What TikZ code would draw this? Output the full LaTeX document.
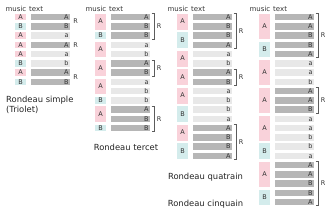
\documentclass[tikz,border=0pt]{standalone}
\usepackage{fontspec}
\setmainfont{DejaVu Sans}
\usetikzlibrary{calc}
\definecolor{musA}{RGB}{249,210,218}
\definecolor{musB}{RGB}{212,236,236}
\definecolor{barRef}{RGB}{182,182,182}
\definecolor{barVer}{RGB}{232,232,232}
\definecolor{inkGrey}{RGB}{51,51,51}
\tikzset{
  rd/hdr/.style={inner sep=0pt, font=\fontsize{7}{8}\selectfont, text=inkGrey},
  rd/bar/.style={rectangle, inner sep=0pt, inner xsep=1.5pt,
    minimum height=6.5pt, text width=36pt, align=right,
    text height=4.7pt, text depth=0pt,
    font=\fontsize{6.5}{7}\selectfont, text=inkGrey},
  rd/mus/.style={rectangle, inner sep=0pt, minimum width=11pt,
    text height=4.7pt, text depth=0pt,
    font=\fontsize{6.5}{7}\selectfont, text=inkGrey},
  rd/brk/.style={draw=inkGrey!80, line width=0.5pt},
  rd/rlab/.style={inner sep=0pt, anchor=west,
    font=\fontsize{6.5}{7}\selectfont, text=inkGrey},
  rd/title/.style={inner sep=0pt, font=\fontsize{8.4}{10}\selectfont,
    text=inkGrey!70!black}
}
\begin{document}
\begin{tikzpicture}[x=1pt, y=-1pt]
  \useasboundingbox (0,0) rectangle (330,218);

  % Rondeau simple (triolet)
  \node[rd/hdr, anchor=east] (tri-hm) at (26.5,9) {music};
  \node[rd/hdr, anchor=west] (tri-ht) at (29,9) {text};
  \foreach \t/\c [count=\i] in {A/barRef,B/barRef,a/barVer,A/barRef,
      a/barVer,b/barVer,A/barRef,B/barRef}
    \node[rd/bar, fill=\c] (tri-bar\i) at (50.5,{17+(\i-1)*9.25}) {\t};
  \foreach \m/\a/\b [count=\k] in {A/1/1,B/2/2,A/3/3,A/4/4,A/5/5,B/6/6,
      A/7/7,B/8/8}
    \node[rd/mus, fill=mus\m, minimum height={(\b-\a)*9.25+6.5}]
      (tri-mus\k) at (20.5,{17+((\a+\b)/2-1)*9.25}) {\m};
  \node[rd/rlab] (tri-r1) at ($(tri-bar1.east)!.5!(tri-bar2.east)+(3pt,0)$) {R};
  \node[rd/rlab] (tri-r2) at ($(tri-bar4.east)+(3pt,0)$) {R};
  \node[rd/rlab] (tri-r3) at ($(tri-bar7.east)!.5!(tri-bar8.east)+(3pt,0)$) {R};
  \node[rd/title, align=left, anchor=west] (tri-title) at (6,105)
    {Rondeau simple\\(Triolet)};

  % Rondeau tercet
  \node[rd/hdr, anchor=east] (ter-hm) at (106.5,9) {music};
  \node[rd/hdr, anchor=west] (ter-ht) at (109,9) {text};
  \foreach \t/\c [count=\i] in {A/barRef,B/barRef,B/barRef,a/barVer,
      b/barVer,A/barRef,B/barRef,a/barVer,b/barVer,b/barVer,A/barRef,
      B/barRef,B/barRef}
    \node[rd/bar, fill=\c] (ter-bar\i) at (130.5,{17+(\i-1)*9.25}) {\t};
  \foreach \m/\a/\b [count=\k] in {A/1/2,B/3/3,A/4/5,A/6/7,A/8/9,B/10/10,
      A/11/12,B/13/13}
    \node[rd/mus, fill=mus\m, minimum height={(\b-\a)*9.25+6.5}]
      (ter-mus\k) at (100.5,{17+((\a+\b)/2-1)*9.25}) {\m};
  \foreach \a/\b [count=\k] in {1/3,6/7,11/13}
    \draw[rd/brk] ([xshift=1.5pt]ter-bar\a.north east) -- ++(3pt,0)
      |- node[rd/rlab, pos=.25, xshift=2pt] (ter-r\k) {R}
      ([xshift=1.5pt]ter-bar\b.south east);
  \node[rd/title] (ter-title) at (126,147) {Rondeau tercet};

  % Rondeau quatrain
  \node[rd/hdr, anchor=east] (qua-hm) at (188.5,9) {music};
  \node[rd/hdr, anchor=west] (qua-ht) at (191,9) {text};
  \foreach \t/\c [count=\i] in {A/barRef,B/barRef,B/barRef,A/barRef,
      a/barVer,b/barVer,A/barRef,B/barRef,a/barVer,b/barVer,b/barVer,
      a/barVer,A/barRef,B/barRef,B/barRef,A/barRef}
    \node[rd/bar, fill=\c] (qua-bar\i) at (212.5,{17+(\i-1)*9.25}) {\t};
  \foreach \m/\a/\b [count=\k] in {A/1/2,B/3/4,A/5/6,A/7/8,A/9/10,B/11/12,
      A/13/14,B/15/16}
    \node[rd/mus, fill=mus\m, minimum height={(\b-\a)*9.25+6.5}]
      (qua-mus\k) at (182.5,{17+((\a+\b)/2-1)*9.25}) {\m};
  \foreach \a/\b [count=\k] in {1/4,7/8,13/16}
    \draw[rd/brk] ([xshift=1.5pt]qua-bar\a.north east) -- ++(3pt,0)
      |- node[rd/rlab, pos=.25, xshift=2pt] (qua-r\k) {R}
      ([xshift=1.5pt]qua-bar\b.south east);
  \node[rd/title] (qua-title) at (205.5,177) {Rondeau quatrain};

  % Rondeau cinquain
  \node[rd/hdr, anchor=east] (cin-hm) at (270.5,9) {music};
  \node[rd/hdr, anchor=west] (cin-ht) at (273,9) {text};
  \foreach \t/\c [count=\i] in {A/barRef,A/barRef,B/barRef,B/barRef,
      A/barRef,a/barVer,a/barVer,b/barVer,A/barRef,A/barRef,B/barRef,
      a/barVer,a/barVer,b/barVer,b/barVer,a/barVer,A/barRef,A/barRef,
      B/barRef,B/barRef,A/barRef}
    \node[rd/bar, fill=\c] (cin-bar\i) at (294.5,{17+(\i-1)*9.25}) {\t};
  \foreach \m/\a/\b [count=\k] in {A/1/3,B/4/5,A/6/8,A/9/11,A/12/14,
      B/15/16,A/17/19,B/20/21}
    \node[rd/mus, fill=mus\m, minimum height={(\b-\a)*9.25+6.5}]
      (cin-mus\k) at (264.5,{17+((\a+\b)/2-1)*9.25}) {\m};
  \foreach \a/\b [count=\k] in {1/5,9/11,17/21}
    \draw[rd/brk] ([xshift=1.5pt]cin-bar\a.north east) -- ++(3pt,0)
      |- node[rd/rlab, pos=.25, xshift=2pt] (cin-r\k) {R}
      ([xshift=1.5pt]cin-bar\b.south east);
  \node[rd/title] (cin-title) at (205.5,204) {Rondeau cinquain};
\end{tikzpicture}
\end{document}
